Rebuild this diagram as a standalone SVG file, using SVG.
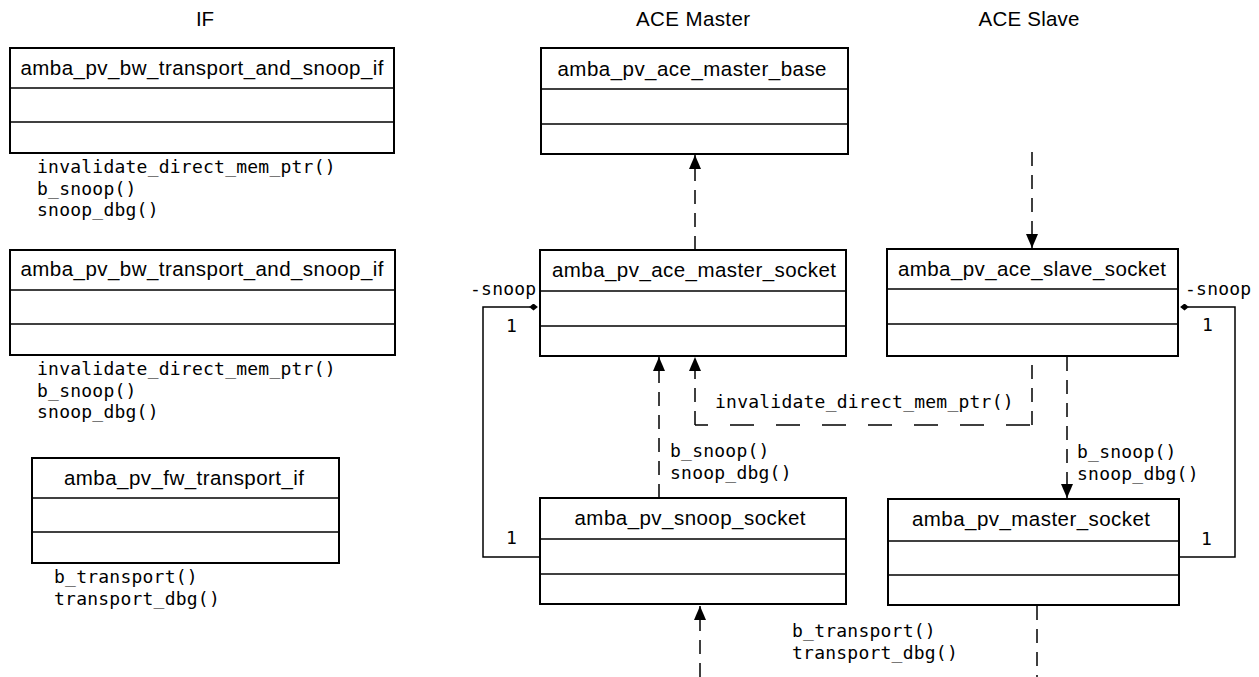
<svg xmlns="http://www.w3.org/2000/svg" width="1259" height="677" viewBox="0 0 1259 677">
<style>
.box{fill:#fff;stroke:#000;stroke-width:2}
.div{stroke:#000;stroke-width:1.5}
.name{font-family:"Liberation Sans",Arial,sans-serif;font-size:20.5px;fill:#000;text-anchor:middle}
.title{font-family:"Liberation Sans",Arial,sans-serif;font-size:20.5px;fill:#000;text-anchor:middle}
.mono{font-family:"DejaVu Sans Mono",monospace;font-size:18px;letter-spacing:0.23px;fill:#000}
.dv{fill:none;stroke:#000;stroke-width:1.5;stroke-dasharray:14,9}
.dh{fill:none;stroke:#000;stroke-width:1.5;stroke-dasharray:24,22}
.sol{fill:none;stroke:#000;stroke-width:1.5}
</style>
<defs>
<marker id="arr" viewBox="0 0 14 12" refX="14" refY="6" markerWidth="14" markerHeight="12" markerUnits="userSpaceOnUse" orient="auto">
<path d="M0,0 L14,6 L0,12 Z" fill="#000"/>
</marker>
<marker id="dia" viewBox="0 0 10 8" refX="1" refY="4" markerWidth="9" markerHeight="7" markerUnits="userSpaceOnUse" orient="auto">
<path d="M0,4 L5,0 L10,4 L5,8 Z" fill="#000"/>
</marker>
</defs>

<text class="title" x="205" y="26">IF</text>
<text class="title" x="693" y="26" textLength="114" lengthAdjust="spacing">ACE Master</text>
<text class="title" x="1029" y="26" textLength="101" lengthAdjust="spacing">ACE Slave</text>

<g id="if_bw1">
<rect class="box" x="10" y="48" width="384" height="105"/>
<line class="div" x1="10" y1="88" x2="394" y2="88"/>
<line class="div" x1="10" y1="122" x2="394" y2="122"/>
<text class="name" x="202" y="75" textLength="363" lengthAdjust="spacing">amba_pv_bw_transport_and_snoop_if</text>
<text class="mono" x="37" y="173">invalidate_direct_mem_ptr()</text>
<text class="mono" x="37" y="194.5">b_snoop()</text>
<text class="mono" x="37" y="216">snoop_dbg()</text>
</g>

<g id="if_bw2">
<rect class="box" x="10" y="250" width="385" height="105"/>
<line class="div" x1="10" y1="290" x2="395" y2="290"/>
<line class="div" x1="10" y1="324" x2="395" y2="324"/>
<text class="name" x="202" y="276" textLength="363" lengthAdjust="spacing">amba_pv_bw_transport_and_snoop_if</text>
<text class="mono" x="37" y="375">invalidate_direct_mem_ptr()</text>
<text class="mono" x="37" y="396.5">b_snoop()</text>
<text class="mono" x="37" y="418">snoop_dbg()</text>
</g>

<g id="if_fw">
<rect class="box" x="32" y="458" width="307" height="105"/>
<line class="div" x1="32" y1="498" x2="339" y2="498"/>
<line class="div" x1="32" y1="532" x2="339" y2="532"/>
<text class="name" x="184" y="485" textLength="240" lengthAdjust="spacing">amba_pv_fw_transport_if</text>
<text class="mono" x="54" y="583">b_transport()</text>
<text class="mono" x="54" y="605">transport_dbg()</text>
</g>

<g id="ace_master_base">
<rect class="box" x="541" y="48" width="307" height="106"/>
<line class="div" x1="541" y1="89" x2="848" y2="89"/>
<line class="div" x1="541" y1="124" x2="848" y2="124"/>
<text class="name" x="692" y="76" textLength="269" lengthAdjust="spacing">amba_pv_ace_master_base</text>
</g>

<g id="ace_master_socket">
<rect class="box" x="540" y="250" width="306" height="106"/>
<line class="div" x1="540" y1="291" x2="846" y2="291"/>
<line class="div" x1="540" y1="326" x2="846" y2="326"/>
<text class="name" x="694" y="277" textLength="284" lengthAdjust="spacing">amba_pv_ace_master_socket</text>
</g>

<g id="snoop_socket">
<rect class="box" x="540" y="498" width="306" height="106"/>
<line class="div" x1="540" y1="539" x2="846" y2="539"/>
<line class="div" x1="540" y1="574" x2="846" y2="574"/>
<text class="name" x="690" y="525" textLength="231" lengthAdjust="spacing">amba_pv_snoop_socket</text>
</g>

<g id="ace_slave_socket">
<rect class="box" x="887" y="249" width="291" height="107"/>
<line class="div" x1="887" y1="289" x2="1178" y2="289"/>
<line class="div" x1="887" y1="324" x2="1178" y2="324"/>
<text class="name" x="1032" y="276" textLength="268" lengthAdjust="spacing">amba_pv_ace_slave_socket</text>
</g>

<g id="master_socket">
<rect class="box" x="888" y="499" width="291" height="106"/>
<line class="div" x1="888" y1="541" x2="1179" y2="541"/>
<line class="div" x1="888" y1="575" x2="1179" y2="575"/>
<text class="name" x="1031" y="526" textLength="238" lengthAdjust="spacing">amba_pv_master_socket</text>
</g>

<g id="connectors">
<line class="dv" x1="695" y1="250" x2="695" y2="155" marker-end="url(#arr)"/>
<line class="dv" x1="1032" y1="152" x2="1032" y2="248" marker-end="url(#arr)"/>
<line class="dv" x1="659" y1="498" x2="659" y2="357" marker-end="url(#arr)"/>
<line class="dv" x1="695" y1="425" x2="695" y2="357" marker-end="url(#arr)"/>
<line class="dh" x1="695" y1="425" x2="1032" y2="425" stroke-dashoffset="11"/>
<line class="dv" x1="1032" y1="425" x2="1032" y2="357"/>
<line class="dv" x1="1067" y1="357" x2="1067" y2="498" marker-end="url(#arr)"/>
<line class="dv" x1="700" y1="677" x2="700" y2="606" marker-end="url(#arr)"/>
<line class="dv" x1="1037" y1="606" x2="1037" y2="677"/>
<polyline class="sol" points="540,557 483,557 483,307 530,307" marker-end="url(#dia)"/>
<polyline class="sol" points="1179,557 1235,557 1235,307 1188,307" marker-end="url(#dia)"/>
<text class="mono" x="715" y="408">invalidate_direct_mem_ptr()</text>
<text class="mono" x="670" y="457">b_snoop()</text>
<text class="mono" x="670" y="479">snoop_dbg()</text>
<text class="mono" x="1077" y="458">b_snoop()</text>
<text class="mono" x="1077" y="480">snoop_dbg()</text>
<text class="mono" x="792" y="637">b_transport()</text>
<text class="mono" x="792" y="659">transport_dbg()</text>
<text class="mono" x="470" y="295">-snoop</text>
<text class="mono" x="1185" y="295">-snoop</text>
<text class="mono" x="506" y="332">1</text>
<text class="mono" x="506" y="544">1</text>
<text class="mono" x="1202" y="331">1</text>
<text class="mono" x="1201" y="545">1</text>
</g>
</svg>
